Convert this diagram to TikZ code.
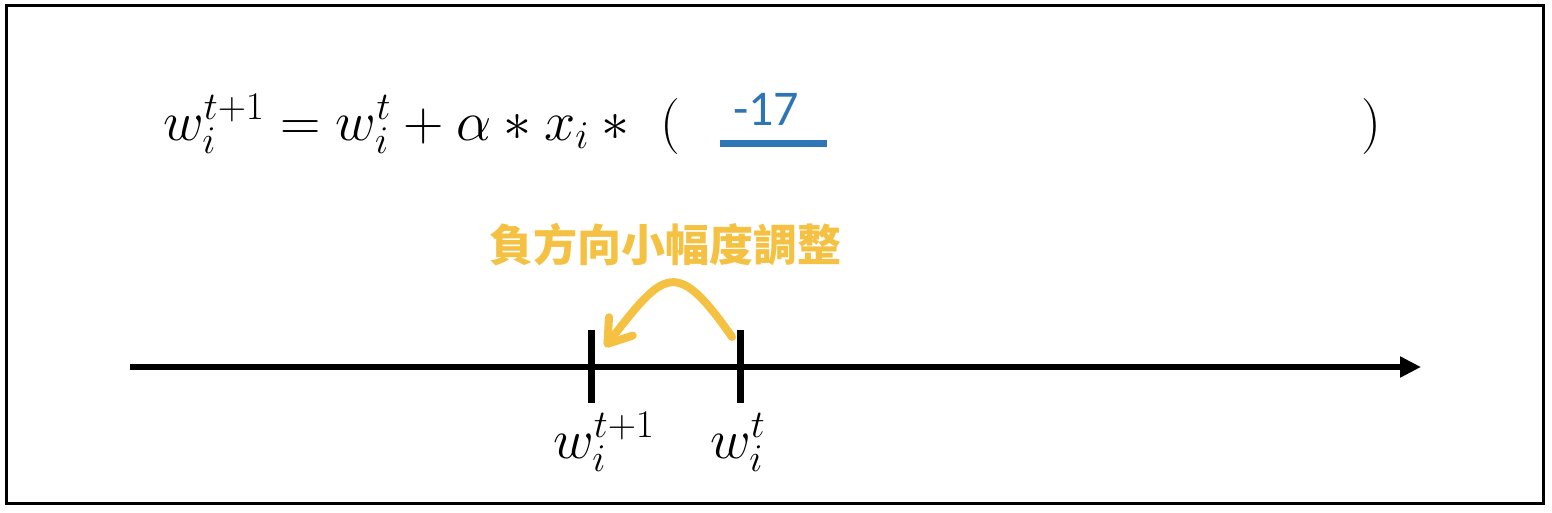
\documentclass[tikz,border=0pt]{standalone}
\usepackage{fix-cm}
\usepackage{fontspec}
\setsansfont{Carlito}
\newfontfamily\cjk{Noto Sans CJK TC}
\usetikzlibrary{arrows.meta}
\definecolor{hintgold}{RGB}{245,193,66}
\definecolor{stepblue}{RGB}{46,117,182}
\newcommand{\bigmath}{\fontsize{56}{66}\selectfont}
\tikzset{
  eqtext/.style={inner sep=0pt,font=\bigmath},
  ticklin/.style={line width=7pt},
}
\begin{document}
\begin{tikzpicture}[x=1pt,y=1pt,yscale=-1,xscale=1]
\useasboundingbox (0,0) rectangle (1552,512);

%Shape: Frame
\draw [line width=3pt] (6,5.5) rectangle (1543.5,503.5);

% Text Node
\node (upd) [eqtext,anchor=base west] at (163,140) {$w_i^{t+1}=w_i^t+\alpha*x_i*\mkern6mu($};
% Text Node
\node (rpar) [eqtext,anchor=base] at (1371,140) {$)$};
% Text Node
\node (delta) [inner sep=0pt,anchor=base,text=stepblue,font=\sffamily\fontsize{50}{60}\selectfont] at (766,125) {-17};
%Shape: Underline
\coordinate (ulA) at (720,143.5);
\coordinate (ulB) at (827,143.5);
\draw [stepblue,line width=7pt] (ulA) -- (ulB);

% Text Node
\node (hint) [inner sep=0pt,text=hintgold,font=\cjk\bfseries\fontsize{44}{50}\selectfont] at (665,245) {負方向小幅度調整};

%Shape: Axis
\coordinate (axA) at (130,367);
\coordinate (axB) at (1421,367);
\draw [line width=6pt,-{Triangle[length=21pt,width=20pt]}] (axA) -- (axB);
%Shape: Ticks
\coordinate (tnewT) at (591.5,330);
\coordinate (tnewB) at (591.5,403);
\coordinate (toldT) at (740,330);
\coordinate (toldB) at (740,403);
\draw [ticklin] (tnewT) -- (tnewB);
\draw [ticklin] (toldT) -- (toldB);

%Shape: Curved Arrow
\coordinate (jumpA) at (732,337);
\coordinate (jumpB) at (605,347);
\draw [hintgold,line width=8pt,line cap=round,-{Straight Barb[length=22pt,width=30pt,line cap=round,line join=round]}] (jumpA) .. controls (676,257) and (664.5,270) .. (jumpB);

% Text Node
\node (lblnew) [eqtext,anchor=base west] at (553,458) {$w_i^{t+1}$};
% Text Node
\node (lblold) [eqtext,anchor=base west] at (710,458) {$w_i^t$};

\end{tikzpicture}
\end{document}
